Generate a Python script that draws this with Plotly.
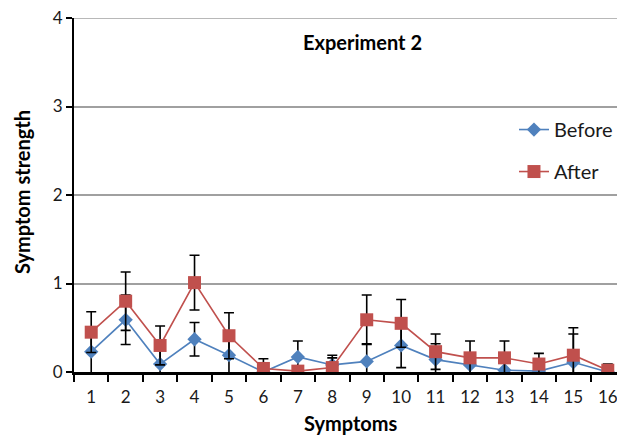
import plotly.graph_objects as go

symptoms = list(range(1, 17))
tick_labels = [str(s) for s in symptoms]
y_ticks = [0, 1, 2, 3, 4]
before = [0.23, 0.59, 0.09, 0.37, 0.19, 0.0, 0.17, 0.08, 0.12, 0.30, 0.14, 0.08, 0.02, 0.01, 0.11, 0.0]
before_err = [0.25, 0.28, 0.20, 0.19, 0.22, 0.05, 0.18, 0.11, 0.20, 0.25, 0.18, 0.10, 0.08, 0.05, 0.32, 0.05]
after = [0.45, 0.80, 0.30, 1.01, 0.41, 0.04, 0.01, 0.05, 0.59, 0.55, 0.23, 0.16, 0.16, 0.09, 0.19, 0.02]
after_err = [0.23, 0.33, 0.22, 0.31, 0.26, 0.11, 0.05, 0.11, 0.28, 0.27, 0.20, 0.19, 0.19, 0.12, 0.31, 0.07]

FONT = "Lato"
BLUE = "#4F81BD"
RED = "#C0504D"
TXT = "#1a1a1a"
GRID = "#A0A0A0"

fig = go.Figure()
fig.add_trace(go.Scatter(
    x=symptoms, y=before, name="Before", mode="lines+markers",
    line=dict(color=BLUE, width=1.6),
    marker=dict(symbol="diamond", size=11, color=BLUE),
    error_y=dict(type="data", array=before_err, visible=True, color="black", thickness=1.6, width=5),
    legendgroup="b",
))
fig.add_trace(go.Scatter(
    x=symptoms, y=after, name="After", mode="lines+markers",
    line=dict(color=RED, width=1.6),
    marker=dict(symbol="square", size=13, color=RED),
    error_y=dict(type="data", array=after_err, visible=True, color="black", thickness=1.6, width=5),
    legendgroup="a",
))

# The page body adds an 8px margin, so the figure is 8px smaller than the window.
fig.update_layout(
    width=617, height=428,
    margin=dict(l=66, r=0, t=10, b=64, autoexpand=False),
    paper_bgcolor="white", plot_bgcolor="white",
    font=dict(family=FONT, size=17, color=TXT),
    showlegend=True,
    legend=dict(x=0.7985, y=0.74, xanchor="left", yanchor="top",
                font=dict(family=FONT, size=20, color=TXT),
                tracegroupgap=13, bgcolor="rgba(0,0,0,0)"),
    xaxis=dict(
        range=[0.5, 16.5], tickvals=symptoms, ticktext=tick_labels,
        ticks="outside", ticklen=8, tickcolor="rgba(0,0,0,0)",
        showline=True, linecolor="black", linewidth=2.5,
        showgrid=False, zeroline=False,
        minor=dict(tickvals=[i + 0.5 for i in range(0, 17)], ticks="outside",
                   ticklen=7, tickcolor="black", tickwidth=1.5, showgrid=False),
        tickfont=dict(size=17, color=TXT),
    ),
    yaxis=dict(
        range=[0, 4], tickvals=y_ticks, ticks="outside", ticklen=6,
        tickcolor="black", tickwidth=1.5, ticklabeloverflow="allow",
        showline=True, linecolor="black", linewidth=2,
        showgrid=True, gridcolor=GRID, gridwidth=1.5, zeroline=False,
        tickfont=dict(size=17, color=TXT),
    ),
    shapes=[
        dict(type="line", xref="paper", x0=0, x1=1, yref="y", y0=y_ticks[-1], y1=y_ticks[-1],
             line=dict(color=GRID, width=1.5), layer="below"),
    ],
    annotations=[
        dict(text="<b>Experiment 2</b>", x=0.5245, y=0.932, xref="paper", yref="paper",
             xanchor="center", yanchor="middle",
             showarrow=False, font=dict(size=20, family=FONT, color="black")),
        dict(text="<b>Symptoms</b>", x=0.5027, y=-0.144, xref="paper", yref="paper",
             xanchor="center", yanchor="middle",
             showarrow=False, font=dict(size=20, family=FONT, color="black")),
        dict(text="<b>Symptom strength</b>", x=-0.0944, y=0.5085, xref="paper", yref="paper",
             xanchor="center", yanchor="middle",
             showarrow=False, textangle=-90, font=dict(size=20, family=FONT, color="black")),
    ],
)

fig.write_html("out.html")
